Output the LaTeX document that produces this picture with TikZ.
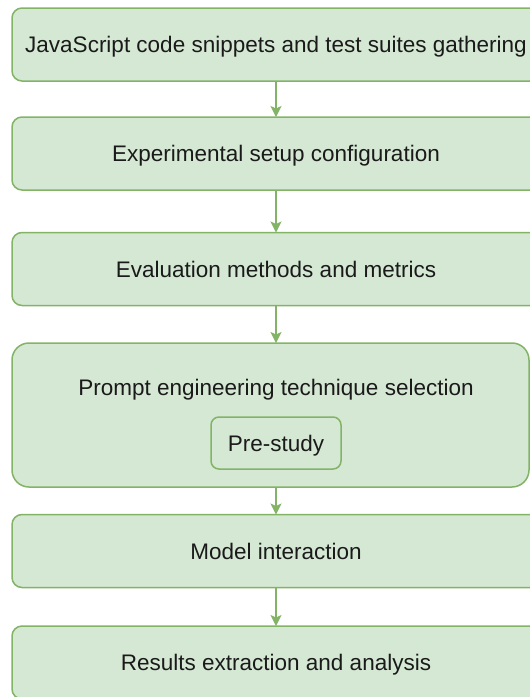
\documentclass[tikz,border=0pt]{standalone}
\usepackage{fontspec}
\setmainfont{Liberation Sans}
\usetikzlibrary{arrows.meta}
\definecolor{flowfill}{HTML}{D5E8D4}
\definecolor{flowline}{HTML}{82B366}
\definecolor{flowtext}{HTML}{1A1A1A}
\tikzset{
  stagebox/.style={draw=flowline, fill=flowfill, line width=1.5pt,
    rounded corners=10pt, minimum width=528pt, minimum height=73pt,
    outer sep=0pt, inner sep=0pt, text=flowtext,
    font=\fontsize{22.5}{27}\selectfont, text height=16pt, text depth=0pt},
  substep/.style={stagebox, rounded corners=8pt, minimum width=130pt,
    minimum height=52pt},
  flowarrow/.style={draw=flowline, line width=1.5pt,
    -{Stealth[length=11pt, width=11pt, inset=2.5pt, fill=flowline]}}
}

\begin{document}
\begin{tikzpicture}[x=1pt, y=-1pt]
\useasboundingbox (0,0) rectangle (530,697);
% Stage boxes
\node[stagebox] (gather) at (276,44.5) {JavaScript code snippets and test suites gathering};
\node[stagebox] (setup) at (276,153.5) {Experimental setup configuration};
\node[stagebox] (evaluation) at (276,269) {Evaluation methods and metrics};
\node[stagebox, minimum width=517pt, minimum height=144pt, rounded corners=17pt] (prompt) at (270.5,415) {};
\node[text=flowtext, font=\fontsize{22.5}{27}\selectfont, text height=16pt,
      text depth=0pt, inner sep=0pt] (prompttitle) at (276,387) {Prompt engineering technique selection};
\node[substep] (prestudy) at (276,443) {Pre-study};
\node[stagebox] (interaction) at (276,551) {Model interaction};
\node[stagebox] (results) at (276,662.5) {Results extraction and analysis};
% Arrows between stages
\draw[flowarrow] (gather) -- (setup);
\draw[flowarrow] (setup) -- (evaluation);
\draw[flowarrow] (evaluation) -- (evaluation |- prompt.north);
\draw[flowarrow] (interaction |- prompt.south) -- (interaction);
\draw[flowarrow] (interaction) -- (results);
\end{tikzpicture}
\end{document}
